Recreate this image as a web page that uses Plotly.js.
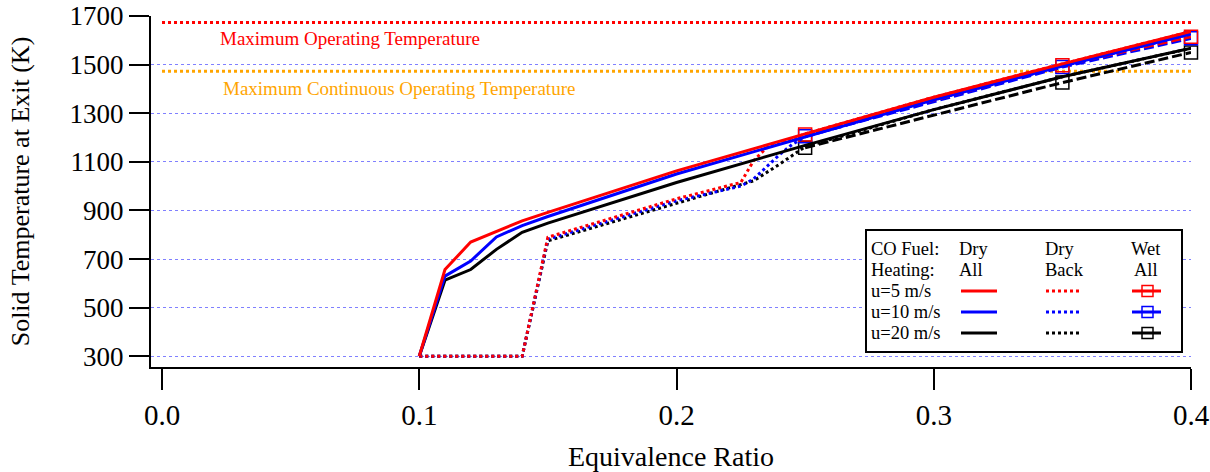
<!DOCTYPE html>
<html>
<head>
<meta charset="utf-8">
<script src="https://cdn.plot.ly/plotly-3.0.1.min.js"></script>
<style>html,body{margin:0;padding:0;background:#fff}#chart{width:1210px;height:472px}</style>
</head>
<body>
<div id="chart"></div>
<script>
// ---- data ----
const phi = [0.10, 0.11, 0.12, 0.13, 0.14, 0.15, 0.20, 0.25, 0.30, 0.35, 0.40];
const dryAll_u5  = [300, 657, 770, 812, 857, 892, 1063, 1215, 1366, 1503, 1636];
const dryAll_u10 = [300, 630, 692, 791, 838, 875, 1050, 1203, 1355, 1494, 1626];
const dryAll_u20 = [300, 613, 657, 740, 810, 848, 1015, 1168, 1315, 1450, 1567];

const phiBack_u5  = [0.10, 0.14, 0.15, 0.20, 0.225, 0.23, 0.235, 0.25, 0.30, 0.35, 0.40];
const dryBack_u5  = [300, 300, 790, 948, 1015, 1105, 1158, 1215, 1366, 1503, 1636];
const phiBack_u10 = [0.10, 0.14, 0.15, 0.20, 0.225, 0.23, 0.24, 0.245, 0.25, 0.30, 0.35, 0.40];
const dryBack_u10 = [300, 300, 782, 940, 1000, 1030, 1129, 1172, 1203, 1355, 1494, 1626];
const phiBack_u20 = [0.10, 0.14, 0.15, 0.20, 0.23, 0.24, 0.25, 0.30, 0.35, 0.40];
const dryBack_u20 = [300, 300, 775, 928, 1022, 1090, 1162, 1315, 1450, 1567];

const phiWet = [0.25, 0.35, 0.40];
const wetAll_u5  = [1212, 1497, 1615];
const wetAll_u10 = [1205, 1490, 1608];
const wetAll_u20 = [1158, 1426, 1550];

const limitPhi = [0.0, 0.4];
const maxOperating = 1673;
const maxContinuous = 1473;

const yTicks = [300, 500, 700, 900, 1100, 1300, 1500, 1700];
const xTicks = [0.0, 0.1, 0.2, 0.3, 0.4];

// ---- layout geometry ----
const W = 1210, H = 472;
const M = {l: 151, r: 19, t: 16, b: 105};
const PW = W - M.l - M.r, PH = H - M.t - M.b;
const px = x => (x - M.l) / PW;
const py = y => (H - M.b - y) / PH;

const FONT = "Liberation Serif, Times New Roman, serif";
const RED = "#ff0000", BLUE = "#0000ff", BLACK = "#000000", ORANGE = "#ffa500";

function line(x, y, color, dash, width) {
  return {x: x, y: y, type: "scatter", mode: "lines", cliponaxis: false,
          line: {color: color, width: width || 3, dash: dash || "solid"}, hoverinfo: "skip"};
}
function wet(x, y, color) {
  return {x: x, y: y, type: "scatter", mode: "lines+markers", cliponaxis: false,
          line: {color: color, width: 3, dash: "10px,4px"},
          marker: {symbol: "square-open", size: 13, color: color, line: {width: 1.5, color: color}},
          hoverinfo: "skip"};
}

const traces = [
  line(limitPhi, [maxOperating, maxOperating], RED, "dot", 3),
  line(limitPhi, [maxContinuous, maxContinuous], ORANGE, "dot", 3),
  wet(phiWet, wetAll_u20, BLACK),
  wet(phiWet, wetAll_u10, BLUE),
  wet(phiWet, wetAll_u5, RED),
  line(phiBack_u20, dryBack_u20, BLACK, "dot"),
  line(phiBack_u10, dryBack_u10, BLUE, "dot"),
  line(phiBack_u5, dryBack_u5, RED, "dot"),
  line(phi, dryAll_u20, BLACK),
  line(phi, dryAll_u10, BLUE),
  line(phi, dryAll_u5, RED)
];

// ---- custom legend (table) ----
const shapes = [];
const annotations = [];
shapes.push({type: "rect", xref: "paper", yref: "paper",
  x0: px(866), x1: px(1182), y0: py(352), y1: py(230),
  line: {color: "#000", width: 2}, fillcolor: "#fff", layer: "above"});

function ltext(x, y, t, anchor) {
  annotations.push({xref: "paper", yref: "paper", x: px(x), y: py(y), text: t,
    showarrow: false, xanchor: anchor || "left", yanchor: "middle",
    font: {family: FONT, size: 18.5, color: "#000"}});
}
ltext(869, 249, "CO Fuel:");
ltext(869, 270, "Heating:");
ltext(869, 291, "u=5 m/s");
ltext(869, 312, "u=10 m/s");
ltext(869, 333, "u=20 m/s");
ltext(957, 249, "Dry");
ltext(957, 270, "All");
ltext(1043, 249, "Dry");
ltext(1043, 270, "Back");
ltext(1146, 249, "Wet", "center");
ltext(1146, 270, "All", "center");

const rows = [[291, RED], [312, BLUE], [333, BLACK]];
rows.forEach(([y, c]) => {
  shapes.push({type: "line", xref: "paper", yref: "paper", x0: px(961), x1: px(997), y0: py(y), y1: py(y),
    line: {color: c, width: 3}, layer: "above"});
  shapes.push({type: "line", xref: "paper", yref: "paper", x0: px(1046), x1: px(1081), y0: py(y), y1: py(y),
    line: {color: c, width: 3, dash: "dot"}, layer: "above"});
  shapes.push({type: "line", xref: "paper", yref: "paper", x0: px(1132), x1: px(1161), y0: py(y), y1: py(y),
    line: {color: c, width: 3}, layer: "above"});
  shapes.push({type: "rect", xref: "paper", yref: "paper", x0: px(1142), x1: px(1153), y0: py(y + 5.5), y1: py(y - 5.5),
    line: {color: c, width: 1.5}, fillcolor: "rgba(0,0,0,0)", layer: "above"});
});

// ---- limit labels ----
annotations.push({xref: "x", yref: "y", x: 0.0218, y: 1609, text: "Maximum Operating Temperature",
  showarrow: false, xanchor: "left", yanchor: "middle", font: {family: FONT, size: 19, color: RED}});
annotations.push({xref: "x", yref: "y", x: 0.0229, y: 1400, text: "Maximum Continuous Operating Temperature",
  showarrow: false, xanchor: "left", yanchor: "middle", font: {family: FONT, size: 19, color: ORANGE}});

const layout = {
  width: W, height: H,
  margin: M,
  paper_bgcolor: "#fff", plot_bgcolor: "#fff",
  showlegend: false,
  font: {family: FONT, color: "#000"},
  xaxis: {
    range: [-0.00428, 0.4],
    tickvals: xTicks, ticktext: xTicks.map(v => v.toFixed(1)),
    ticks: "outside", ticklen: 21, tickwidth: 2, tickcolor: "#000",
    showline: true, linecolor: "#000", linewidth: 2,
    showgrid: false, zeroline: false,
    tickfont: {family: FONT, size: 29, color: "#000"},
    title: {text: "Equivalence Ratio", font: {family: FONT, size: 28, color: "#000"}, standoff: 18}
  },
  yaxis: {
    range: [256, 1700],
    tickvals: yTicks,
    ticks: "outside", ticklen: 20, tickwidth: 2, tickcolor: "#000",
    showline: true, linecolor: "#000", linewidth: 2,
    showgrid: true, gridcolor: "#8080ff", gridwidth: 1, griddash: "dot",
    zeroline: false,
    tickfont: {family: FONT, size: 27, color: "#000"},
    title: {text: "Solid Temperature at Exit (K)", font: {family: FONT, size: 26, color: "#000"}, standoff: 32}
  },
  shapes: shapes,
  annotations: annotations
};

Plotly.newPlot("chart", traces, layout, {displayModeBar: false, staticPlot: true});
</script>
</body>
</html>
